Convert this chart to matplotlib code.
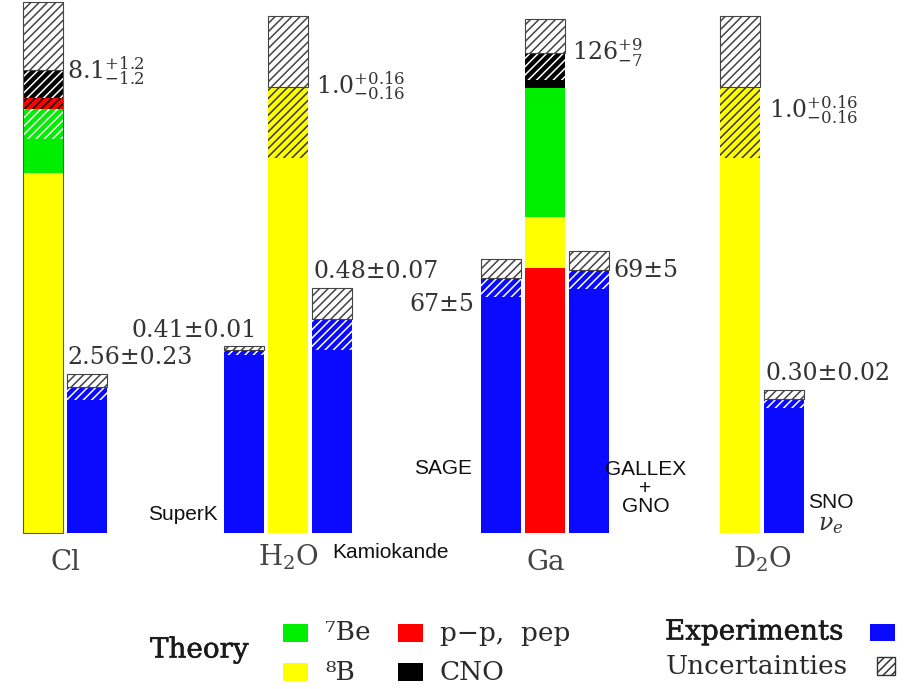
import matplotlib
matplotlib.use('Agg')
import matplotlib.pyplot as plt
import matplotlib.patheffects as pe
from matplotlib.patches import Rectangle

# ---- data (SNU for Cl and Ga, ratio to SSM for water / heavy water) ----
cl_sources = ['8B', '7Be', 'pp', 'CNO']
cl_theory = [6.30, 1.12, 0.19, 0.49]
cl_err = (1.2, 1.2)
cl_label = r'$8.1^{+1.2}_{-1.2}$'

h2o_sources = ['8B']
h2o_theory = [1.0]
h2o_err = (0.16, 0.16)
h2o_label = r'$1.0^{+0.16}_{-0.16}$'

ga_sources = ['pp', '8B', '7Be', 'CNO']
ga_theory = [69.6, 13.4, 33.8, 9.2]
ga_err = (9, 7)
ga_label = r'$126^{+9}_{-7}$'

d2o_sources = ['8B']
d2o_theory = [1.0]
d2o_err = (0.16, 0.16)
d2o_label = r'$1.0^{+0.16}_{-0.16}$'

exp_names = ['Homestake', 'SuperK', 'Kamiokande', 'SAGE', 'GALLEX + GNO', 'SNO']
exp_values = [2.56, 0.41, 0.48, 67, 69, 0.30]
exp_errors = [0.23, 0.01, 0.07, 5, 5, 0.02]
exp_labels = ['2.56±0.23', '0.41±0.01', '0.48±0.07', '67±5', '69±5', '0.30±0.02']

group_names = ['Cl', r'$\mathrm{H_2O}$', 'Ga', r'$\mathrm{D_2O}$']

colors = {'8B': '#ffff00', '7Be': '#00ee00', 'pp': '#ff0000', 'CNO': '#000000'}
hatch_colors = {'8B': '#333333', '7Be': 'white', 'pp': '#000000', 'CNO': 'white'}
EXP_COLOR = '#0a0aff'
HATCH = '////'

plt.rcParams['mathtext.fontset'] = 'dejavuserif'
plt.rcParams['hatch.linewidth'] = 1.1

SERIF = 'DejaVu Serif'
SANS = 'Liberation Sans'
TXT = '#333333'

W, H = 920, 689
BASE = 533      # baseline, pixels from top
PITCH = 44      # bar pitch in pixels
WIDTH = 40 / 44

fig = plt.figure(figsize=(W / 100, H / 100), dpi=100)


def pt(p):
    # pixels -> points at 100 dpi
    return p * 0.72


def group_axes(left_px, nbars, px_per_unit):
    ax = fig.add_axes([left_px / W, (H - BASE) / H, nbars * PITCH / W, BASE / H])
    ax.set_xlim(-0.5, nbars - 0.5)
    ax.set_ylim(0, BASE / px_per_unit)
    ax.axis('off')
    return ax


def draw_theory(ax, x, sources, values, err, edge=False):
    total = sum(values)
    up, dn = err
    bottom = 0
    for s, v in zip(sources, values):
        ax.bar(x, v, WIDTH, bottom=bottom, color=colors[s], lw=0, clip_on=False)
        lo, hi = max(bottom, total - dn), bottom + v
        if hi > lo:
            ax.bar(x, hi - lo, WIDTH, bottom=lo, color='none', edgecolor=hatch_colors[s],
                   hatch=HATCH, lw=0, clip_on=False)
        bottom += v
    if edge:
        ax.bar(x, total, WIDTH, color='none', edgecolor='#555555', lw=0.8, clip_on=False)
    ax.bar(x, up, WIDTH, bottom=total, color='white', edgecolor='#444444', hatch=HATCH,
           lw=0.8, clip_on=False)
    return total


def draw_exp(ax, x, i):
    v, e = exp_values[i], exp_errors[i]
    ax.bar(x, v, WIDTH, color=EXP_COLOR, lw=0, clip_on=False)
    ax.bar(x, e, WIDTH, bottom=v - e, color='none', edgecolor='white', hatch=HATCH, lw=0,
           clip_on=False)
    ax.bar(x, e, WIDTH, bottom=v, color='white', edgecolor='#444444', hatch=HATCH, lw=0.8,
           clip_on=False)


def note(ax, s, xy, off, ha='left', va='center', size=17, family=SERIF, **kw):
    ax.annotate(s, xy=xy, xytext=(pt(off[0]), pt(off[1])), textcoords='offset points',
                ha=ha, va=va, fontsize=size, family=family, color=kw.pop('color', TXT), **kw)


def group_label(ax, s, dy=29):
    ax.annotate(s, xy=(0.5, 0), xycoords='axes fraction', xytext=(0, -pt(dy)),
                textcoords='offset points', ha='center', va='center', fontsize=20,
                family=SERIF, color='#444444')


h = WIDTH / 2
sans_kw = dict(size=15, family=SANS, color='#111111')

# Cl
ax = group_axes(21.5, 2, 57.1)
t = draw_theory(ax, 0, cl_sources, cl_theory, cl_err, edge=True)
note(ax, cl_label, (h, t), (4, 0))
draw_exp(ax, 1, 0)
note(ax, exp_labels[0], (1 - h, exp_values[0] + exp_errors[0]), (0, 16))
group_label(ax, group_names[0])

# H2O
ax = group_axes(222, 3, 446)
draw_exp(ax, 0, 1)
t = draw_theory(ax, 1, h2o_sources, h2o_theory, h2o_err)
draw_exp(ax, 2, 2)
note(ax, h2o_label, (1 + h, t), (8, 2))
note(ax, exp_labels[1], (h, exp_values[1] + exp_errors[1]), (-7, 15), ha='right')
note(ax, exp_labels[2], (2 - h, exp_values[2] + exp_errors[2]), (2, 16))
note(ax, exp_names[1], (-h, 0), (-6, 19), ha='right', **sans_kw)
note(ax, exp_names[2], (2, 0), (0, -19), **sans_kw)
group_label(ax, group_names[1], dy=24)

# Ga
ax = group_axes(479.5, 3, 3.81)
draw_exp(ax, 0, 3)
t = draw_theory(ax, 1, ga_sources, ga_theory, ga_err)
draw_exp(ax, 2, 4)
note(ax, ga_label, (1 + h, t), (7, 0))
note(ax, exp_labels[3], (-h, exp_values[3]), (-7, -27), ha='right')
note(ax, exp_labels[4], (2 + h, exp_values[4]), (4, 0))
note(ax, exp_names[3], (-h, 0), (-9, 65), ha='right', **sans_kw)
note(ax, exp_names[4].replace(' + ', '\n+\n'), (2 + h, 0), (36, 45), ha='center',
     linespacing=0.98, multialignment='center', **sans_kw)
group_label(ax, group_names[2])

# D2O
ax = group_axes(718.5, 2, 446)
t = draw_theory(ax, 0, d2o_sources, d2o_theory, d2o_err)
draw_exp(ax, 1, 5)
note(ax, d2o_label, (h, t), (9, -22))
note(ax, exp_labels[5], (1 - h, exp_values[5] + exp_errors[5]), (1, 17))
note(ax, exp_names[5], (1 + h, 0), (4, 31), **sans_kw)
note(ax, r'$\nu_e$', (1 + h, 0), (26, 8), ha='center', size=17, color='#333333')
group_label(ax, group_names[3], dy=26)

# ---- legend drawn in pixel coordinates ----
lg = fig.add_axes([0, 0, 1, 1])
lg.set_xlim(0, W)
lg.set_ylim(H, 0)
lg.axis('off')
lg.patch.set_visible(False)

heavy = [pe.withStroke(linewidth=0.4, foreground='#1a1a1a')]
legend_text = dict(family=SERIF, fontsize=19, color='#2a2a2a', va='center')
lg.text(150, 650, 'Theory', family=SERIF, fontsize=20, color='#1a1a1a', va='center',
        path_effects=heavy)
for (x, y), s, lab in [((283, 624), '7Be', '⁷Be'), ((283, 663), '8B', '⁸B'),
                       ((398, 624), 'pp', 'p−p,  pep'), ((398, 663), 'CNO', 'CNO')]:
    lg.add_patch(Rectangle((x, y), 25, 18, color=colors[s], lw=0))
    lg.text(x + 42, y + 9, lab, **legend_text)
lg.text(843, 632, 'Experiments', family=SERIF, fontsize=20, color='#1a1a1a', va='center',
        ha='right', path_effects=heavy)
lg.add_patch(Rectangle((870, 624), 25, 17, color=EXP_COLOR, lw=0))
lg.text(848, 667, 'Uncertainties', ha='right', **legend_text)
lg.add_patch(Rectangle((877, 657), 18, 18, facecolor='white', edgecolor='#333333',
                       hatch=HATCH, lw=1.0))

fig.savefig('out.png', dpi=100)
